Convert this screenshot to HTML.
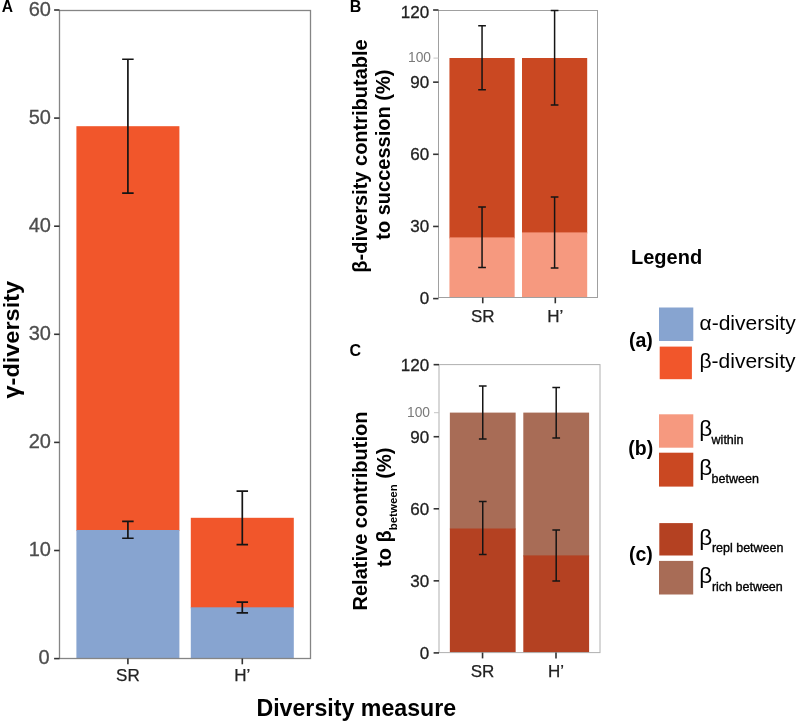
<!DOCTYPE html>
<html><head><meta charset="utf-8"><style>
html,body{margin:0;padding:0;background:#fff;width:800px;height:722px;overflow:hidden}
svg{display:block;font-family:"Liberation Sans",sans-serif;will-change:transform}
.b{font-weight:bold}
</style></head><body>
<svg width="800" height="722" viewBox="0 0 800 722">
<rect width="800" height="722" fill="#fff"/>
<rect x="76.40" y="126.20" width="103.00" height="404.80" fill="#F1562B"/>
<rect x="76.40" y="530.00" width="103.00" height="128.50" fill="#87A4D0"/>
<rect x="190.80" y="517.80" width="103.00" height="90.50" fill="#F1562B"/>
<rect x="190.80" y="607.30" width="103.00" height="51.20" fill="#87A4D0"/>
<rect x="59.5" y="10.5" width="251.00" height="648.00" fill="none" stroke="#858585" stroke-width="1.3"/>
<path d="M127.90 521.40V538.25M122.15 521.40H133.65M122.15 538.25H133.65" stroke="#151515" stroke-width="1.7" fill="none"/>
<path d="M127.90 59.25V193.10M122.15 59.25H133.65M122.15 193.10H133.65" stroke="#151515" stroke-width="1.7" fill="none"/>
<path d="M242.30 602.20V612.80M236.55 602.20H248.05M236.55 612.80H248.05" stroke="#151515" stroke-width="1.7" fill="none"/>
<path d="M242.30 491.20V544.60M236.55 491.20H248.05M236.55 544.60H248.05" stroke="#151515" stroke-width="1.7" fill="none"/>
<path d="M54.10 658.60H59.50" stroke="#333" stroke-width="1.6"/>
<text x="49.50" y="664.28" font-size="20" fill="#4d4d4d" stroke="#4d4d4d" stroke-width="0.3" text-anchor="end">0</text>
<path d="M54.10 550.50H59.50" stroke="#333" stroke-width="1.6"/>
<text x="51.00" y="556.18" font-size="20" fill="#4d4d4d" stroke="#4d4d4d" stroke-width="0.3" text-anchor="end">10</text>
<path d="M54.10 442.40H59.50" stroke="#333" stroke-width="1.6"/>
<text x="51.00" y="448.08" font-size="20" fill="#4d4d4d" stroke="#4d4d4d" stroke-width="0.3" text-anchor="end">20</text>
<path d="M54.10 334.30H59.50" stroke="#333" stroke-width="1.6"/>
<text x="51.00" y="339.98" font-size="20" fill="#4d4d4d" stroke="#4d4d4d" stroke-width="0.3" text-anchor="end">30</text>
<path d="M54.10 226.20H59.50" stroke="#333" stroke-width="1.6"/>
<text x="51.00" y="231.88" font-size="20" fill="#4d4d4d" stroke="#4d4d4d" stroke-width="0.3" text-anchor="end">40</text>
<path d="M54.10 118.10H59.50" stroke="#333" stroke-width="1.6"/>
<text x="51.00" y="123.78" font-size="20" fill="#4d4d4d" stroke="#4d4d4d" stroke-width="0.3" text-anchor="end">50</text>
<path d="M54.10 10.00H59.50" stroke="#333" stroke-width="1.6"/>
<text x="51.00" y="15.68" font-size="20" fill="#4d4d4d" stroke="#4d4d4d" stroke-width="0.3" text-anchor="end">60</text>
<path d="M127.90 658.50V664.30" stroke="#333" stroke-width="1.6"/>
<text x="127.90" y="681.00" font-size="17" fill="#222" stroke="#222" stroke-width="0.25" text-anchor="middle">SR</text>
<path d="M242.30 658.50V664.30" stroke="#333" stroke-width="1.6"/>
<text x="242.30" y="681.00" font-size="17" fill="#222" stroke="#222" stroke-width="0.25" text-anchor="middle">H’</text>
<rect x="449.45" y="58.00" width="65.20" height="180.40" fill="#CA4822"/>
<rect x="449.45" y="237.40" width="65.20" height="60.10" fill="#F6997F"/>
<rect x="522.00" y="58.00" width="65.20" height="175.40" fill="#CA4822"/>
<rect x="522.00" y="232.40" width="65.20" height="65.10" fill="#F6997F"/>
<rect x="438.5" y="10.5" width="159.00" height="287.00" fill="none" stroke="#a0a0a0" stroke-width="1"/>
<path d="M482.05 207.00V267.60M478.20 207.00H485.90M478.20 267.60H485.90" stroke="#151515" stroke-width="1.5" fill="none"/>
<path d="M482.05 25.80V89.80M478.20 25.80H485.90M478.20 89.80H485.90" stroke="#151515" stroke-width="1.5" fill="none"/>
<path d="M554.60 197.00V268.00M550.75 197.00H558.45M550.75 268.00H558.45" stroke="#151515" stroke-width="1.5" fill="none"/>
<path d="M554.60 10.50V105.00M550.75 10.50H558.45M550.75 105.00H558.45" stroke="#151515" stroke-width="1.5" fill="none"/>
<path d="M433.10 298.60H438.50" stroke="#333" stroke-width="1.6"/>
<text x="429.20" y="304.45" font-size="17" fill="#222" stroke="#222" stroke-width="0.3" text-anchor="end">0</text>
<path d="M433.10 226.45H438.50" stroke="#333" stroke-width="1.6"/>
<text x="429.20" y="232.30" font-size="17" fill="#222" stroke="#222" stroke-width="0.3" text-anchor="end">30</text>
<path d="M433.10 154.30H438.50" stroke="#333" stroke-width="1.6"/>
<text x="429.20" y="160.15" font-size="17" fill="#222" stroke="#222" stroke-width="0.3" text-anchor="end">60</text>
<path d="M433.10 82.15H438.50" stroke="#333" stroke-width="1.6"/>
<text x="429.20" y="88.00" font-size="17" fill="#222" stroke="#222" stroke-width="0.3" text-anchor="end">90</text>
<path d="M433.10 10.00H438.50" stroke="#333" stroke-width="1.6"/>
<text x="429.20" y="18.35" font-size="17" fill="#222" stroke="#222" stroke-width="0.3" text-anchor="end">120</text>
<path d="M433.50 58.10H438.50" stroke="#c4c4c4" stroke-width="1"/>
<text x="431.00" y="62.05" font-size="13.8" fill="#7a7a7a" text-anchor="end">100</text>
<path d="M482.75 297.50V303.30" stroke="#333" stroke-width="1.6"/>
<text x="482.75" y="321.50" font-size="17" fill="#222" stroke="#222" stroke-width="0.25" text-anchor="middle">SR</text>
<path d="M555.30 297.50V303.30" stroke="#333" stroke-width="1.6"/>
<text x="555.30" y="321.50" font-size="17" fill="#222" stroke="#222" stroke-width="0.25" text-anchor="middle">H’</text>
<rect x="449.85" y="412.60" width="65.80" height="116.90" fill="#A86C56"/>
<rect x="449.85" y="528.50" width="65.80" height="124.10" fill="#B44122"/>
<rect x="523.30" y="412.60" width="65.80" height="143.80" fill="#A86C56"/>
<rect x="523.30" y="555.40" width="65.80" height="97.20" fill="#B44122"/>
<rect x="439.0" y="364.6" width="161.00" height="288.00" fill="none" stroke="#b0b0b0" stroke-width="1"/>
<path d="M482.75 501.60V554.60M478.90 501.60H486.60M478.90 554.60H486.60" stroke="#151515" stroke-width="1.5" fill="none"/>
<path d="M482.75 386.00V439.00M478.90 386.00H486.60M478.90 439.00H486.60" stroke="#151515" stroke-width="1.5" fill="none"/>
<path d="M556.20 530.00V581.00M552.35 530.00H560.05M552.35 581.00H560.05" stroke="#151515" stroke-width="1.5" fill="none"/>
<path d="M556.20 387.40V438.00M552.35 387.40H560.05M552.35 438.00H560.05" stroke="#151515" stroke-width="1.5" fill="none"/>
<path d="M433.60 652.90H439.00" stroke="#333" stroke-width="1.6"/>
<text x="429.20" y="658.75" font-size="17" fill="#222" stroke="#222" stroke-width="0.3" text-anchor="end">0</text>
<path d="M433.60 580.84H439.00" stroke="#333" stroke-width="1.6"/>
<text x="429.20" y="586.69" font-size="17" fill="#222" stroke="#222" stroke-width="0.3" text-anchor="end">30</text>
<path d="M433.60 508.78H439.00" stroke="#333" stroke-width="1.6"/>
<text x="429.20" y="514.63" font-size="17" fill="#222" stroke="#222" stroke-width="0.3" text-anchor="end">60</text>
<path d="M433.60 436.72H439.00" stroke="#333" stroke-width="1.6"/>
<text x="429.20" y="442.57" font-size="17" fill="#222" stroke="#222" stroke-width="0.3" text-anchor="end">90</text>
<path d="M433.60 364.66H439.00" stroke="#333" stroke-width="1.6"/>
<text x="429.20" y="370.51" font-size="17" fill="#222" stroke="#222" stroke-width="0.3" text-anchor="end">120</text>
<path d="M434.00 412.70H439.00" stroke="#c4c4c4" stroke-width="1"/>
<text x="430.00" y="416.65" font-size="13.8" fill="#7a7a7a" text-anchor="end">100</text>
<path d="M482.55 652.60V658.40" stroke="#333" stroke-width="1.6"/>
<text x="482.55" y="676.60" font-size="17" fill="#222" stroke="#222" stroke-width="0.25" text-anchor="middle">SR</text>
<path d="M556.00 652.60V658.40" stroke="#333" stroke-width="1.6"/>
<text x="556.00" y="676.60" font-size="17" fill="#222" stroke="#222" stroke-width="0.25" text-anchor="middle">H’</text>
<text class="b" x="1.7" y="11.9" font-size="15.6" fill="#000">A</text>
<text class="b" x="349.7" y="12" font-size="16" fill="#000">B</text>
<text class="b" x="349.6" y="356.2" font-size="16" fill="#000">C</text>
<text class="b" x="356.3" y="716" font-size="23.2" fill="#000" text-anchor="middle">Diversity measure</text>
<text class="b" transform="translate(19.2,339.7) rotate(-90) scale(1.05,1)" font-size="22.4" fill="#000" text-anchor="middle">γ-diversity</text>
<text class="b" transform="translate(366.7,156) rotate(-90)" font-size="20" fill="#000" text-anchor="middle"><tspan x="0" y="0">β-diversity contributable</tspan><tspan x="1.3" y="23.8">to succession (%)</tspan></text>
<text class="b" transform="translate(366.8,511) rotate(-90)" font-size="20" fill="#000" text-anchor="middle"><tspan x="0" y="0">Relative contribution</tspan><tspan x="3.7" y="23.8">to β<tspan font-size="11.5" dy="6.3">between</tspan><tspan dy="-6.3"> (%)</tspan></tspan></text>
<text class="b" x="631" y="263.8" font-size="20" fill="#000">Legend</text>
<rect x="659" y="307.5" width="34.3" height="33.5" fill="#87A4D0"/>
<rect x="659.7" y="346.6" width="32.2" height="32.6" fill="#F1562B"/>
<text class="b" x="629" y="347.2" font-size="19.5" fill="#000">(a)</text>
<text x="699.5" y="329.6" font-size="21" fill="#000">α-diversity</text>
<text x="699.5" y="368" font-size="21" fill="#000">β-diversity</text>
<rect x="659" y="414.3" width="34.3" height="33.4" fill="#F6997F"/>
<rect x="659" y="452.7" width="34.3" height="33.9" fill="#CA4822"/>
<text class="b" x="628.3" y="454.5" font-size="19.5" fill="#000">(b)</text>
<text x="699.3" y="436.3" font-size="22.5" fill="#000">β</text><text x="711.6" y="444.3" font-size="12.5" fill="#000" stroke="#000" stroke-width="0.35">within</text>
<text x="699.3" y="475.1" font-size="22.5" fill="#000">β</text><text x="711.6" y="483.3" font-size="12.5" fill="#000" stroke="#000" stroke-width="0.35">between</text>
<rect x="659.3" y="523.1" width="33.5" height="32.4" fill="#B44122"/>
<rect x="659" y="560.9" width="34.2" height="33.6" fill="#A86C56"/>
<text class="b" x="628.9" y="561.3" font-size="19.5" fill="#000">(c)</text>
<text x="699.3" y="545.3" font-size="22.5" fill="#000">β</text><text x="711.9" y="551.9" font-size="12.5" fill="#000" stroke="#000" stroke-width="0.35">repl between</text>
<text x="699.3" y="583.4" font-size="22.5" fill="#000">β</text><text x="711.9" y="590.6" font-size="12.5" fill="#000" stroke="#000" stroke-width="0.35">rich between</text>
</svg>
</body></html>
